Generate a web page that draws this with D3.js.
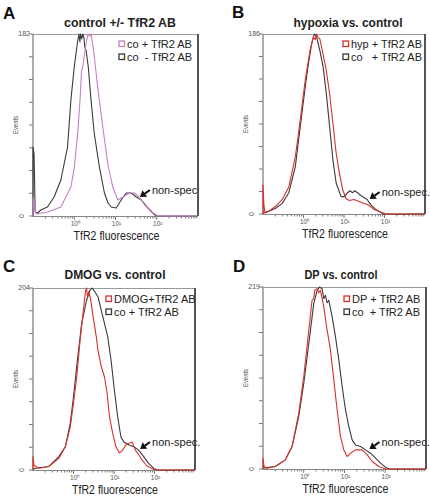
<!DOCTYPE html>
<html><head><meta charset="utf-8">
<script src="https://cdn.jsdelivr.net/npm/d3@7"></script>
<style>body{margin:0;background:#fff}svg{display:block;font-family:"Liberation Sans",Arial,Helvetica,sans-serif}</style>
</head><body><svg id="c" width="430" height="497"></svg>
<script>
// ---------- data ----------
const panelLetters = ["A", "B", "C", "D"];
const panelTitles = ["control +/- TfR2 AB", "hypoxia vs. control", "DMOG vs. control", "DP vs. control"];
const yMaxLabels = [182, 186, 204, 219];
const xTickValues = [1, 10, 100];
const xTickLabels = ["10\u2070", "10\u00b9", "10\u00b2"];
const legendA = ["co + TfR2 AB", "co  - TfR2 AB"];
const legendB = ["hyp + TfR2 AB", "co   + TfR2 AB"];
const legendC = ["DMOG+TfR2 AB", "co + TfR2 AB"];
const legendD = ["DP + TfR2 AB", "co  + TfR2 AB"];
const nonSpecLabels = ["non-spec", "non-spec.", "non-spec.", "non-spec."];
// arrow tip [fluorescence, events]
const nonSpecTips = [[39, 19], [43, 15.5], [44, 23.5], [41, 24]];

// series: [fluorescence, events]
const aBlackMinus = [[0.1,0],[0.1,69],[0.106,62],[0.113,4],[0.13,3],[0.154,6],[0.224,9],[0.325,19],[0.473,36],[0.688,69],[0.829,116],[1.0,149],[1.21,175],[1.3,182],[1.37,174],[1.43,182],[1.52,177],[1.62,182],[1.72,178],[1.8,169],[1.93,166],[2.19,149],[2.55,116],[3.07,82],[4.07,49],[5.39,23],[6.6,13],[7.84,9],[10.4,8],[13.7,16],[18.2,23],[24.1,23],[31.9,19],[42.3,16],[61.5,8],[89.4,1],[108,0],[1000,0]];
const aPinkPlus = [[0.1,0],[0.1,19],[0.108,8],[0.12,2],[0.224,4],[0.473,9],[0.829,29],[1.0,48],[1.21,82],[1.4,120],[1.5,145],[1.6,149],[1.75,160],[1.93,172],[2.05,178],[2.19,182],[2.4,180],[2.55,182],[2.8,172],[3.07,159],[3.7,129],[4.92,89],[6.5,52],[8.6,29],[11.4,16],[15.1,19],[21.9,23],[29,23],[38.5,18],[51,11],[74,4],[108,0],[1000,0]];
const bBlackCo = [[0.1,1],[0.142,3],[0.206,6],[0.299,11],[0.434,22],[0.628,49],[0.83,90],[1.1,131],[1.32,155],[1.59,176],[1.85,186],[2.1,183],[2.53,169],[3.05,152],[3.67,124],[4.42,90],[5.32,56],[6.4,32],[8.46,18],[10.2,18],[12.3,22],[14,24],[16.2,22],[18.5,24],[21.4,22],[28.3,18],[37.4,15],[45,10],[59.4,5],[78.5,2],[94.6,0],[1000,0]];
const bRedHyp = [[0.1,0],[0.1,30],[0.105,10],[0.112,1],[0.13,2],[0.206,8],[0.299,15],[0.434,28],[0.628,59],[0.83,97],[1.1,138],[1.45,169],[1.75,183],[1.95,180],[2.1,186],[2.3,182],[2.53,181],[3.05,165],[3.67,148],[4.42,124],[5.32,94],[6.4,63],[7.71,42],[9.29,25],[11.2,16],[13.5,14],[17.8,15],[23.5,13],[31,11],[41,9],[54.2,5],[78.5,2],[114,0],[1000,0]];
const cBlackCo = [[0.1,1],[0.118,2],[0.248,4],[0.434,15],[0.628,26],[0.83,52],[1.0,82],[1.2,116],[1.59,164],[2.1,190],[2.53,201],[2.88,204],[3.34,200],[4.03,194],[4.85,179],[5.84,164],[7.03,149],[8.46,123],[10.2,90],[12.3,60],[14.8,37],[17.8,31],[23.5,28],[31,26],[41,22],[54.2,15],[71.6,7.5],[94.6,2],[114,0],[1000,0]];
const cRedDmog = [[0.1,0],[0.1,15],[0.106,5],[0.142,2],[0.248,4],[0.434,13],[0.628,26],[0.83,48],[1.0,75],[1.2,104],[1.45,145],[1.75,179],[1.99,201],[2.1,204],[2.22,194],[2.39,200],[2.68,190],[3.05,172],[3.67,149],[4.03,134],[4.85,116],[5.84,104],[6.77,86],[7.71,60],[9.29,41],[11.2,26],[13.5,19],[16.2,22],[19.5,28],[23.5,30],[28.3,31],[34,22],[41,17],[49.4,11],[65.3,4.5],[94.6,0.7],[120,0],[1000,0]];
const dBlackCo = [[0.1,1],[0.2,3],[0.354,11],[0.516,27],[0.753,63],[1.0,103],[1.33,151],[1.76,199],[2.13,215],[2.43,219],[2.82,217],[3.1,205],[3.41,209],[3.75,200],[4.12,203],[4.98,183],[6.01,159],[7.26,131],[8.77,99],[10.6,71],[12.8,51],[15.4,35],[18.6,29],[24.7,27],[32.8,23],[43.6,19],[57.8,13],[76.7,7],[102,2],[123,0],[1000,0]];
const dRedDp = [[0.1,0],[0.1,13],[0.106,3],[0.125,1],[0.2,3],[0.354,11],[0.516,27],[0.753,67],[1.0,111],[1.33,167],[1.6,203],[1.75,205],[1.86,215],[2.13,217],[2.35,212],[2.57,215],[3.1,195],[3.75,167],[4.53,143],[5.47,107],[6.6,71],[7.98,39],[9.63,23],[11.6,15],[14.1,19],[18.6,23],[27.2,23],[36.1,17],[47.9,9],[69.8,3],[102,0],[1000,0]];

// ---------- layout / styles ----------
const BLACK = "#3a3a3a", PINK = "#c382c3", RED = "#d8302c";
const panels = [
  {left:33, right:198, top:34, bottom:216, lx:3, ly:19, tx:120, ty:27, tw:112, legX:119, legY:44, series:[[aBlackMinus,BLACK],[aPinkPlus,PINK]], legend:legendA, legColors:[PINK,BLACK]},
  {left:263, right:425, top:34, bottom:214, lx:232, ly:18, tx:348, ty:27, tw:109, legX:343, legY:44, series:[[bBlackCo,BLACK],[bRedHyp,RED]], legend:legendB, legColors:[RED,BLACK]},
  {left:33, right:195, top:288, bottom:470, lx:3, ly:272, tx:115, ty:279, tw:101, legX:106, legY:299, series:[[cBlackCo,BLACK],[cRedDmog,RED]], legend:legendC, legColors:[RED,BLACK]},
  {left:263, right:426, top:287, bottom:469, lx:233, ly:272, tx:341, ty:279, tw:73, legX:344, legY:299, series:[[dBlackCo,BLACK],[dRedDp,RED]], legend:legendD, legColors:[RED,BLACK]}
];

const svg = d3.select("#c");

panels.forEach((p, i) => {
  const g = svg.append("g");
  const x = d3.scaleLog().domain([0.1, 1000]).range([p.left, p.right]);
  const y = d3.scaleLinear().domain([0, yMaxLabels[i]]).range([p.bottom, p.top]);

  // panel letter and title
  g.append("text").attr("x", p.lx).attr("y", p.ly).attr("font-size", 17).attr("font-weight", "bold").attr("fill", "#111").text(panelLetters[i]);
  g.append("text").attr("x", p.tx).attr("y", p.ty).attr("text-anchor", "middle").attr("font-size", 12).attr("font-weight", "bold").attr("fill", "#222")
    .attr("textLength", p.tw).attr("lengthAdjust", "spacingAndGlyphs").text(panelTitles[i]);

  // frame
  g.append("line").attr("x1", p.left).attr("x2", p.right).attr("y1", p.top + 0.5).attr("y2", p.top + 0.5).attr("stroke", "#999").attr("stroke-width", 1);
  g.append("line").attr("x1", p.right).attr("x2", p.right).attr("y1", p.top).attr("y2", p.bottom).attr("stroke", "#555").attr("stroke-width", 2);

  // y axis
  const yTicks = d3.range(9).map(k => k * yMaxLabels[i] / 8);
  g.selectAll(null).data(yTicks).join("line")
    .attr("x1", p.left - 4).attr("x2", p.left).attr("y1", d => y(d)).attr("y2", d => y(d))
    .attr("stroke", "#777").attr("stroke-width", 1);
  g.append("line").attr("x1", p.left).attr("x2", p.left).attr("y1", p.top).attr("y2", p.bottom + 1).attr("stroke", "#888").attr("stroke-width", 1.4);
  g.append("text").attr("x", p.left - 3).attr("y", p.top + 2).attr("text-anchor", "end").attr("font-size", 7).attr("fill", "#555").text(yMaxLabels[i]);
  g.append("text").attr("transform", `translate(${p.left - 9},${p.bottom}) rotate(-90)`).attr("text-anchor", "middle").attr("font-size", 7).attr("fill", "#555").text("0");
  g.append("text").attr("transform", `translate(${p.left - 15},${(p.top + p.bottom) / 2}) rotate(-90)`).attr("text-anchor", "middle").attr("font-size", 8).attr("fill", "#555").attr("textLength", 18).attr("lengthAdjust", "spacingAndGlyphs").text("Events");

  // x axis
  const minor = [];
  [0.1, 1, 10, 100].forEach(dec => { for (let k = 2; k <= 9; k++) minor.push(dec * k); });
  g.selectAll(null).data(minor).join("line")
    .attr("x1", d => x(d)).attr("x2", d => x(d)).attr("y1", p.bottom).attr("y2", p.bottom + 2.5)
    .attr("stroke", "#777").attr("stroke-width", 1);
  g.selectAll(null).data(xTickValues).join("line")
    .attr("x1", d => x(d)).attr("x2", d => x(d)).attr("y1", p.bottom).attr("y2", p.bottom + 4)
    .attr("stroke", "#777").attr("stroke-width", 1);
  g.append("line").attr("x1", p.left).attr("x2", p.right).attr("y1", p.bottom + 0.5).attr("y2", p.bottom + 0.5).attr("stroke", "#888").attr("stroke-width", 1);
  g.selectAll(null).data(xTickValues).join("text")
    .attr("x", d => x(d) + 1).attr("y", p.bottom + 10).attr("text-anchor", "middle").attr("font-size", 6.5).attr("fill", "#555")
    .text((d, k) => xTickLabels[k]);
  g.append("text").attr("x", (p.left + p.right) / 2 + 1).attr("y", p.bottom + 24).attr("text-anchor", "middle").attr("font-size", 12.5).attr("fill", "#222")
    .attr("textLength", 86).attr("lengthAdjust", "spacingAndGlyphs").text("TfR2 fluorescence");

  // curves
  const line = d3.line().x(d => x(d[0])).y(d => y(d[1]));
  p.series.forEach(([data, col]) => {
    g.append("path").attr("d", line(data)).attr("fill", "none").attr("stroke", col).attr("stroke-width", 1.1).attr("stroke-linejoin", "round");
  });

  // legend
  p.legend.forEach((lab, k) => {
    const yy = p.legY + k * 13;
    g.append("rect").attr("x", p.legX).attr("y", yy - 3).attr("width", 5.5).attr("height", 5.5).attr("fill", "#fff").attr("stroke", p.legColors[k]).attr("stroke-width", 1.3);
    g.append("text").attr("x", p.legX + 8).attr("y", yy + 4).attr("font-size", 11).attr("fill", "#222").attr("xml:space", "preserve").style("white-space", "pre").text(lab);
  });

  // non-spec arrow
  const tip = nonSpecTips[i];
  const tx = x(tip[0]), ty = y(tip[1]);
  const dx = 10, dy = -7, len = Math.hypot(dx, dy), ux = dx / len, uy = dy / len;
  const hx = tx + ux * 6, hy = ty + uy * 6;
  g.append("line").attr("x1", hx).attr("y1", hy).attr("x2", tx + dx).attr("y2", ty + dy).attr("stroke", "#111").attr("stroke-width", 2);
  g.append("path").attr("d", `M${tx},${ty} L${hx - uy * 4},${hy + ux * 4} L${hx + uy * 4},${hy - ux * 4} Z`).attr("fill", "#111");
  g.append("text").attr("x", tx + 12).attr("y", ty - 3).attr("font-size", 11).attr("fill", "#222").text(nonSpecLabels[i]);
});
</script></body></html>
